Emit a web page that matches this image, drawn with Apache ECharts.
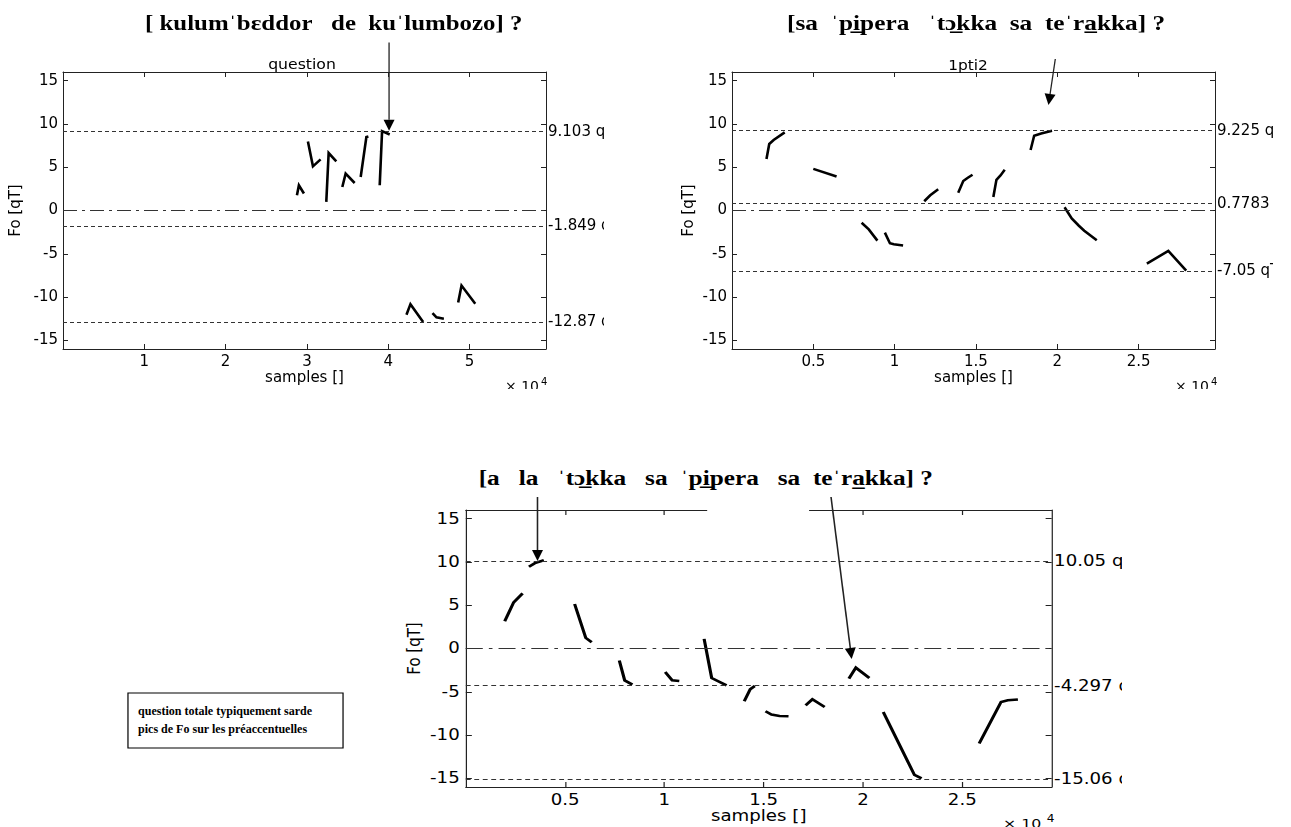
<!DOCTYPE html>
<html>
<head>
<meta charset="utf-8">
<script src="https://cdn.jsdelivr.net/npm/echarts@6.0.0/dist/echarts.min.js"></script>
<style>
html, body { margin:0; padding:0; background:#fff; width:1291px; height:827px; overflow:hidden; }
.pane { position:absolute; overflow:hidden; }
#p1 { left:0; top:0; width:604px; height:389px; }
#p2 { left:606px; top:0; width:667px; height:389px; }
#p3 { left:0; top:440px; width:925px; height:387px; transform:scaleX(1.213); transform-origin:0 0; }
</style>
</head>
<body>
<div id="p1" class="pane"></div>
<div id="p2" class="pane"></div>
<div id="p3" class="pane"></div>
<script>
// ---------------- data ----------------
const yTicks = [-15, -10, -5, 0, 5, 10, 15];

// Panel 1: [ kulumˈbɛddor de kuˈlumbozo] ?
const q1XTicks = [10000, 20000, 30000, 40000, 50000];
const q1XMax = 59400;
const q1RefLines = [9.103, -1.849, -12.87];
const q1Segments = [
  [[28770, 1.76], [29010, 2.92], [29630, 1.96]],
  [[30120, 7.98], [30740, 5.10], [31680, 5.91]],
  [[32380, 1.00], [32670, 6.64], [33610, 5.68]],
  [[34350, 2.72], [34760, 4.26], [35870, 3.18]],
  [[36610, 3.87], [37310, 8.48], [37560, 8.55]],
  [[38950, 2.92], [39240, 9.17], [40180, 8.78]],
  [[42240, -12.04], [42730, -10.82], [44290, -12.89]],
  [[45440, -11.85], [45930, -12.35], [46840, -12.50]],
  [[48600, -10.63], [49010, -8.67], [50700, -10.78]]
];
const q1Arrows = [[[40100, 19.4], [40100, 9.2]]];

// Panel 2: [sa ˈpipera ˈtɔkka sa teˈrakka] ?
const q2XTicks = [5000, 10000, 15000, 20000, 25000];
const q2XMax = 29700;
const q2RefLines = [9.225, 0.7783, -7.05];
const q2Segments = [
  [[2120, 5.96], [2290, 7.68], [2560, 8.14], [3240, 9.02]],
  [[5000, 4.81], [6430, 3.94]],
  [[7970, -1.41], [8410, -2.18], [8940, -3.48]],
  [[9400, -2.56], [9710, -3.78], [9950, -3.90], [10520, -4.05]],
  [[11820, 1.07], [12190, 1.76], [12680, 2.45]],
  [[13910, 2.06], [14220, 3.40], [14500, 3.78], [14790, 4.13]],
  [[16070, 1.57], [16260, 3.55], [16510, 4.05], [16770, 4.70]],
  [[18360, 6.99], [18580, 8.64], [19010, 8.90], [19680, 9.21]],
  [[20450, 0.38], [20890, -0.92], [21330, -1.76], [21660, -2.33], [22430, -3.44]],
  [[25510, -6.15], [26830, -4.66], [27930, -6.95]]
];
const q2Arrows = [[[19880, 17.5], [19460, 12.2]]];

// Panel 3: [a la ˈtɔkka sa ˈpipera sa teˈrakka] ?
const q3XTicks = [5000, 10000, 15000, 20000, 25000];
const q3XMax = 29500;
const q3RefLines = [10.05, -4.297, -15.06];
const q3Segments = [
  [[1960, 3.15], [2410, 5.33], [2860, 6.37]],
  [[3180, 9.44], [3480, 9.86], [3930, 10.20]],
  [[5480, 5.14], [6040, 1.23], [6340, 0.73]],
  [[7730, -1.38], [8000, -3.68], [8390, -4.18]],
  [[10040, -2.72], [10390, -3.68], [10750, -3.76]],
  [[12000, 1.11], [12380, -3.41], [13130, -4.26]],
  [[14020, -6.10], [14320, -4.72], [14550, -4.33]],
  [[15090, -7.25], [15390, -7.63], [15800, -7.79], [16250, -7.83]],
  [[17110, -6.56], [17450, -5.87], [18070, -6.75]],
  [[19290, -3.49], [19640, -2.22], [20320, -3.41]],
  [[21020, -7.33], [22590, -14.61], [22950, -15.00]],
  [[25850, -10.97], [26950, -6.18], [27290, -5.98], [27800, -5.90]]
];
const q3Arrows = [[[3610, 17.5], [3610, 10.1]], [[18390, 17.5], [19430, -1.2]]];

const titleTexts = [
  '[ kulum\u02C8b\u025Bddor   de  ku\u02C8lumbozo] ?',
  '[sa  \u02C8pi\u0332pera   \u02C8t\u0254\u0332kka  sa  te\u02C8ra\u0332kka] ?',
  '[a   la   \u02C8t\u0254\u0332kka   sa  \u02C8pi\u0332pera   sa  te\u02C8ra\u0332kka] ?'
];
const subTitleTexts = ['question', '1pti2'];
const noteLines = ['question totale typiquement sarde', 'pics de Fo sur les pr\u00E9accentuelles'];

// ---------------- helpers ----------------
const SANS = '"DejaVu Sans", sans-serif';
const SERIF = '"Liberation Serif", "DejaVu Serif", serif';
const INK = '#000';
const AXIS = '#222';
const S3 = 1.213;

function buildOption(c) {
  const tickStyle = { color: AXIS, width: 1 };
  const baseX = {
    type: 'value', min: 0, max: c.xMax, gridIndex: 0,
    axisLine: { show: true, onZero: false, lineStyle: { color: AXIS, width: 1 } },
    axisTick: { show: true, inside: true, length: 5, customValues: c.xTicks, lineStyle: tickStyle },
    splitLine: { show: false }
  };
  const baseY = {
    type: 'value', min: -16, max: 16, gridIndex: 0,
    axisLine: { show: true, onZero: false, lineStyle: { color: AXIS, width: 1 } },
    axisTick: { show: true, inside: true, length: 5, customValues: yTicks, lineStyle: tickStyle },
    splitLine: { show: false }
  };
  const refData = c.refLines.map(v => ({
    yAxis: v,
    lineStyle: { type: [4, 3], color: '#333', width: 1 },
    label: {
      show: true, position: 'end', distance: 2, formatter: () => v + ' qT',
      color: INK, fontSize: 15, fontFamily: SANS
    }
  }));
  refData.push({
    yAxis: 0,
    lineStyle: { type: [14, 5, 3, 5], color: '#333', width: 1 },
    label: { show: false }
  });
  const series = c.segments.map((seg, i) => {
    const s = {
      type: 'line', data: seg, xAxisIndex: 0, yAxisIndex: 0,
      showSymbol: false, symbol: 'none', silent: true, animation: false, z: 3,
      lineStyle: { color: INK, width: 2.6, cap: 'butt', join: 'miter' }
    };
    if (i === 0) {
      s.markLine = { silent: true, symbol: ['none', 'none'], animation: false, data: refData };
    }
    return s;
  });
  return {
    animation: false,
    backgroundColor: '#fff',
    textStyle: { fontFamily: SANS },
    grid: [{ left: c.grid[0], top: c.grid[1], right: c.grid[2], bottom: c.grid[3], containLabel: false, outerBoundsMode: 'none' }],
    xAxis: [
      Object.assign({}, baseX, {
        position: 'bottom',
        axisLabel: { show: true, customValues: c.xTicks, formatter: v => String(v / 10000), color: INK, fontSize: 15, fontFamily: SANS, margin: 6 },
        name: 'samples []', nameLocation: 'middle', nameGap: 22, nameMoveOverlap: false,
        nameTextStyle: { color: INK, fontSize: 15, fontFamily: SANS }
      }),
      Object.assign({}, baseX, { position: 'top', axisLabel: { show: false } })
    ],
    yAxis: [
      Object.assign({}, baseY, {
        position: 'left',
        axisLabel: { show: true, customValues: yTicks, color: INK, fontSize: 15, fontFamily: SANS, margin: 5 },
        name: 'Fo [qT]', nameLocation: 'middle', nameRotate: 90, nameGap: c.yNameGap, nameMoveOverlap: false,
        nameTextStyle: { color: INK, fontSize: 15, fontFamily: SANS }
      }),
      Object.assign({}, baseY, { position: 'right', axisLabel: { show: false } })
    ],
    series: series
  };
}

function txt(x, y, text, o) {
  const align = o.align || 'left';
  const valign = o.valign || 'middle';
  return {
    type: 'text', x: x, y: y, scaleX: o.sx || 1, z: 60, silent: true,
    style: {
      text: text, fill: INK, fontSize: o.size, fontFamily: o.family, fontWeight: o.weight || 'normal',
      align: align, verticalAlign: valign, textAlign: align, textVerticalAlign: valign
    }
  };
}

function arrowEls(chart, arrows, sx) {
  const out = [];
  arrows.forEach(a => {
    const p0 = chart.convertToPixel({ gridIndex: 0 }, a[0]);
    const p1 = chart.convertToPixel({ gridIndex: 0 }, a[1]);
    const dx = (p1[0] - p0[0]) / sx, dy = p1[1] - p0[1];
    const L = Math.hypot(dx, dy);
    const ux = dx / L, uy = dy / L;
    const len = 11, half = 5.5;
    const bx = p1[0] - ux * len * sx, by = p1[1] - uy * len;
    const nx = -uy * half * sx, ny = ux * half;
    out.push({ type: 'line', z: 50, silent: true,
      shape: { x1: p0[0], y1: p0[1], x2: bx, y2: by },
      style: { stroke: '#222', lineWidth: 1.3 } });
    out.push({ type: 'polygon', z: 51, silent: true,
      shape: { points: [[p1[0], p1[1]], [bx + nx, by + ny], [bx - nx, by - ny]] },
      style: { fill: '#000' } });
  });
  return out;
}

function tenPow(x, y, size, sx) {
  return [
    txt(x, y, '\u00D7 10', { size: size, family: SANS, valign: 'top', sx: sx }),
    txt(x + 36 * sx, y - 3, '4', { size: 10, family: SANS, valign: 'top', sx: sx })
  ];
}

// ---------------- panel 1 ----------------
const c1 = echarts.init(document.getElementById('p1'), null, { renderer: 'canvas' });
c1.setOption(buildOption({ xMax: q1XMax, xTicks: q1XTicks, refLines: q1RefLines, segments: q1Segments,
  grid: [63, 72, 58, 40], yNameGap: 39 }));
c1.setOption({ graphic: { elements: [].concat(
  [txt(145, 24, titleTexts[0], { size: 22, family: SERIF, weight: 'bold', sx: 1.13 }),
   txt(302, 65, subTitleTexts[0], { size: 14, family: SANS, align: 'center', sx: 1.12 })],
  tenPow(505, 380, 14, 1),
  arrowEls(c1, q1Arrows, 1)
) } });

// ---------------- panel 2 ----------------
const c2 = echarts.init(document.getElementById('p2'), null, { renderer: 'canvas' });
c2.setOption(buildOption({ xMax: q2XMax, xTicks: q2XTicks, refLines: q2RefLines, segments: q2Segments,
  grid: [126, 72, 58, 40], yNameGap: 35 }));
c2.setOption({ graphic: { elements: [].concat(
  [txt(181, 24, titleTexts[1], { size: 22, family: SERIF, weight: 'bold', sx: 1.15 }),
   txt(362, 66, subTitleTexts[1], { size: 14, family: SANS, align: 'center', sx: 1.1 })],
  tenPow(569, 380, 14, 1),
  arrowEls(c2, q2Arrows, 1)
) } });

// ---------------- panel 3 (horizontally stretched like the reference) ----------------
const c3 = echarts.init(document.getElementById('p3'), null, { renderer: 'svg' });
c3.setOption(buildOption({ xMax: q3XMax, xTicks: q3XTicks, refLines: q3RefLines, segments: q3Segments,
  grid: [384, 70, 58, 40], yNameGap: 35 }));
c3.setOption({ graphic: { elements: [].concat(
  [
    { type: 'rect', z: 55, silent: true, shape: { x: 583, y: 64, width: 84, height: 14 }, style: { fill: '#fff' } },
    txt(394.6, 38, titleTexts[2], { size: 22, family: SERIF, weight: 'bold', sx: 1.15 / S3 }),
    { type: 'rect', z: 58, silent: true, shape: { x: 105.5, y: 253, width: 177.3, height: 55 }, style: { fill: '#fff', stroke: '#000', lineWidth: 1 } },
    txt(113.8, 271, noteLines[0], { size: 13, family: SERIF, weight: 'bold', sx: 0.925 / S3 }),
    txt(113.8, 289, noteLines[1], { size: 13, family: SERIF, weight: 'bold', sx: 0.925 / S3 })
  ],
  tenPow(826.9, 377, 13, 1),
  arrowEls(c3, q3Arrows, 1 / S3)
) } });
</script>
</body>
</html>
